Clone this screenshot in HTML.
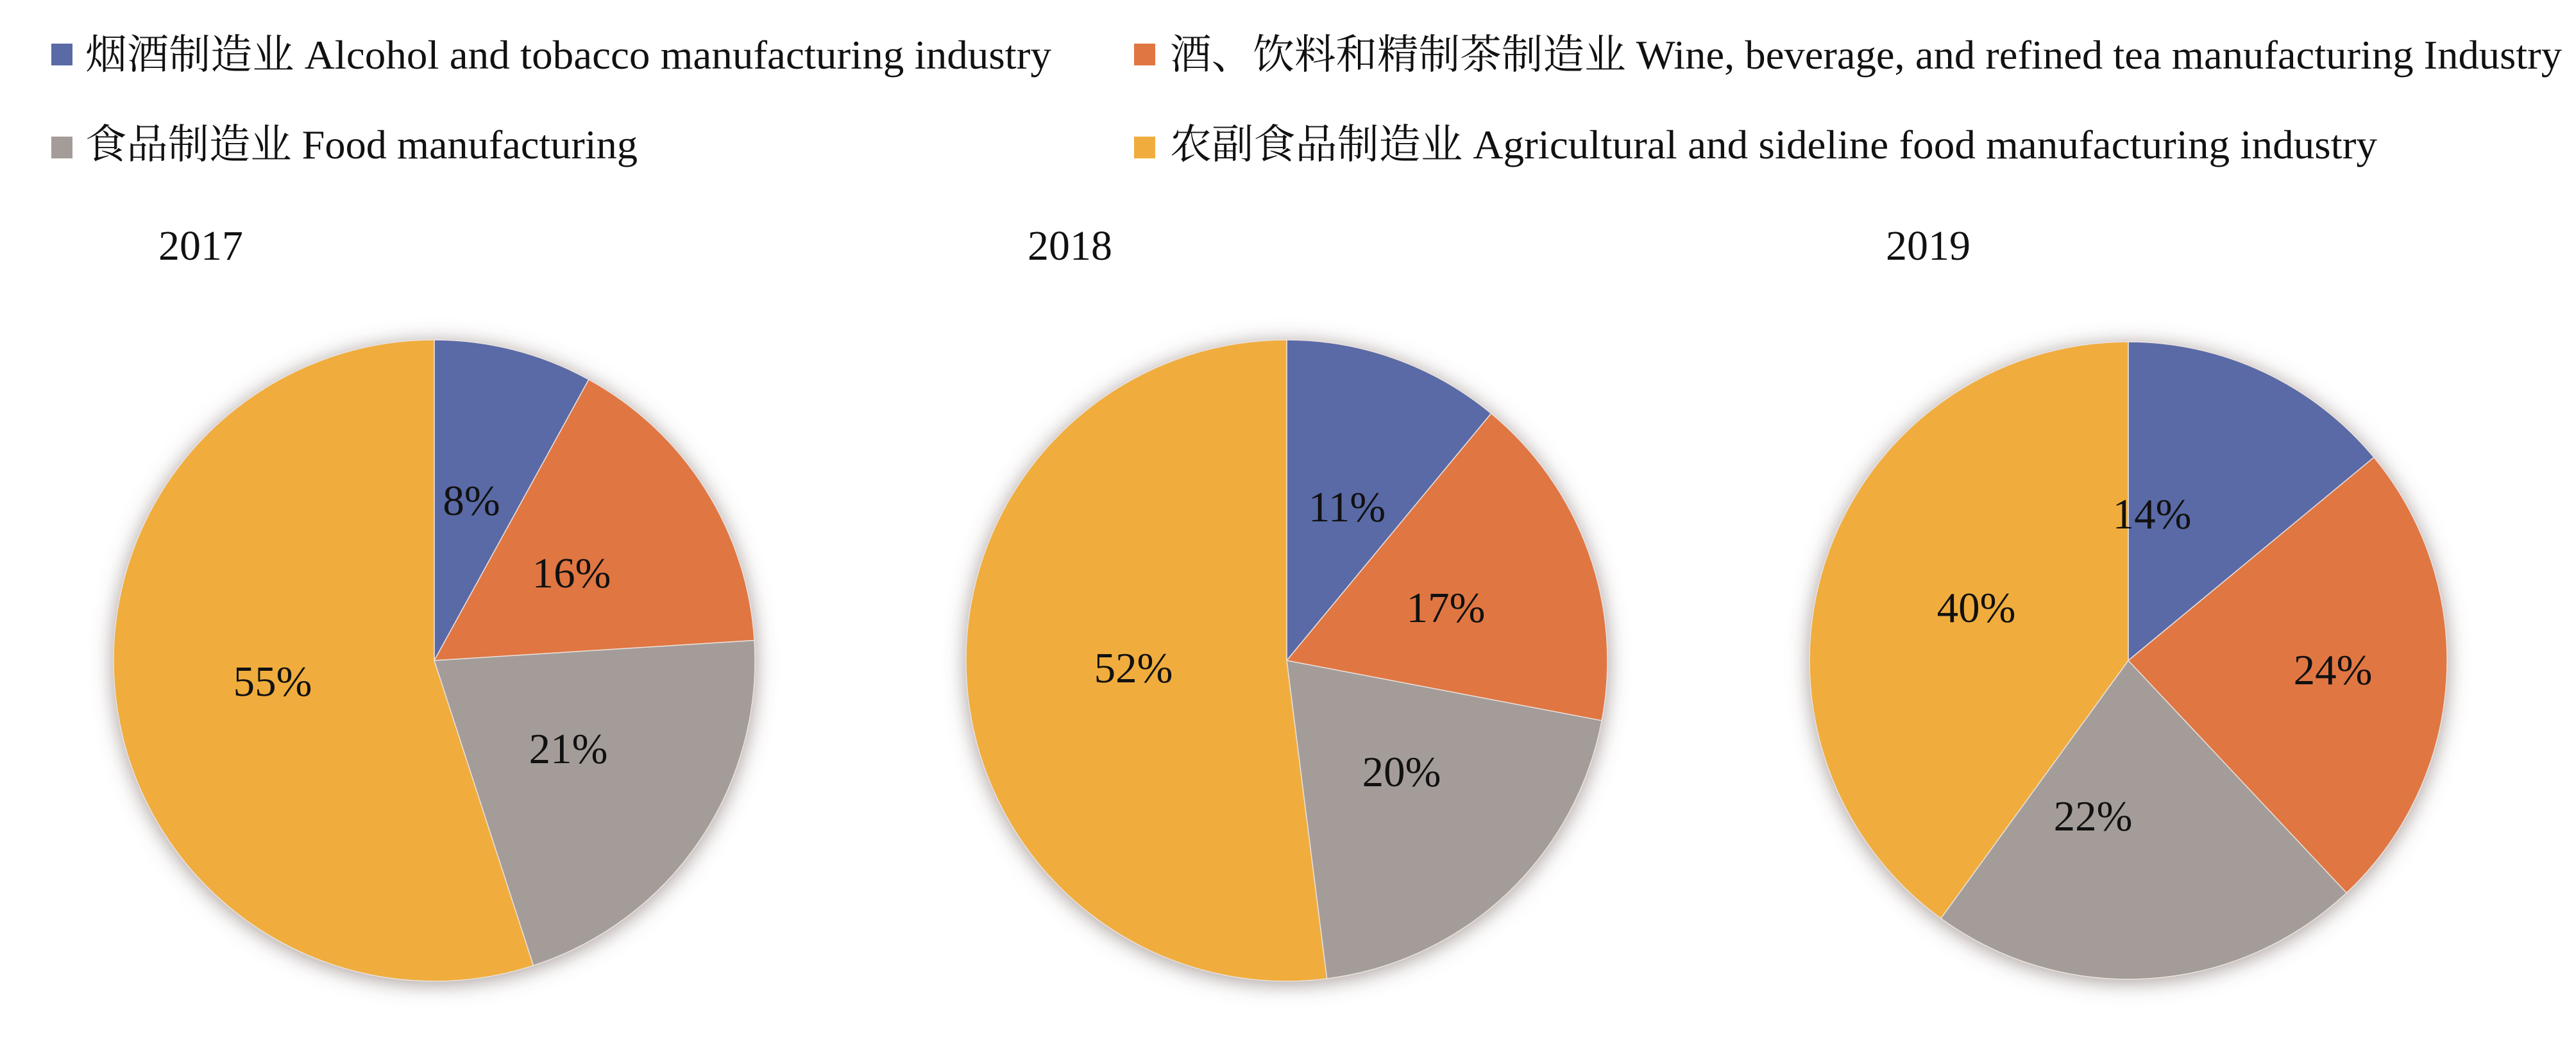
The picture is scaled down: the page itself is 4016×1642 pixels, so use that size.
<!DOCTYPE html>
<html><head><meta charset="utf-8"><style>
html,body{margin:0;padding:0;background:#fff;}
svg{display:block;}
text{font-family:"Liberation Serif","Noto Serif CJK SC","Noto Sans CJK SC",serif;fill:#111;}
</style></head><body>
<svg id="s" width="4016" height="1642" viewBox="0 0 4016 1642" xmlns="http://www.w3.org/2000/svg">
<defs>
<filter id="sh" x="-20%" y="-20%" width="140%" height="140%">
<feGaussianBlur in="SourceAlpha" stdDeviation="16"/>
<feOffset dx="0" dy="4" result="b"/>
<feFlood flood-color="#6b5a55" flood-opacity="0.6"/>
<feComposite in2="b" operator="in"/>
<feMerge><feMergeNode/><feMergeNode in="SourceGraphic"/></feMerge>
</filter>
</defs>
<rect x="80" y="68" width="33" height="34" fill="#5a6aa6"/>
<text x="133" y="107" font-size="64" textLength="1506" lengthAdjust="spacingAndGlyphs">烟酒制造业 Alcohol and tobacco manufacturing industry</text>
<rect x="1768" y="68" width="33" height="34" fill="#e07642"/>
<text x="1824" y="107" font-size="64" textLength="2170" lengthAdjust="spacingAndGlyphs">酒、饮料和精制茶制造业 Wine, beverage, and refined tea manufacturing Industry</text>
<rect x="80" y="213" width="33" height="34" fill="#a39c98"/>
<text x="133" y="247" font-size="64" textLength="861" lengthAdjust="spacingAndGlyphs">食品制造业 Food manufacturing</text>
<rect x="1768" y="213" width="33" height="34" fill="#f0ad3e"/>
<text x="1824" y="247" font-size="64" textLength="1882" lengthAdjust="spacingAndGlyphs">农副食品制造业 Agricultural and sideline food manufacturing industry</text>
<text x="247" y="405" font-size="66">2017</text>
<text x="1602" y="405" font-size="66">2018</text>
<text x="2940" y="405" font-size="66">2019</text>
<g id="pies"></g>
<g font-size="67" text-anchor="middle" dominant-baseline="central">
<text x="735" y="781">8%</text><text x="891" y="894">16%</text><text x="886" y="1168">21%</text><text x="425" y="1063">55%</text>
<text x="2100" y="791">11%</text><text x="2254" y="948">17%</text><text x="2185" y="1204">20%</text><text x="1767" y="1042">52%</text>
<text x="3355" y="802">14%</text><text x="3637" y="1045">24%</text><text x="3263" y="1273">22%</text><text x="3081" y="948">40%</text>
</g>
</svg>
<script>
var cols=["#5a6aa6","#e07642","#a39c98","#f0ad3e"];
var pies=[[677,1030,500,[8,16,21,55]],[2006,1030,500,[11,17,20,52]],[3318,1030,497,[14,24,22,40]]];
var g=document.getElementById("pies"),h="";
pies.forEach(function(p){
 var cx=p[0],cy=p[1],r=p[2],a=0;h+='<g filter="url(#sh)">';
 p[3].forEach(function(v,i){
  var a0=a/100*2*Math.PI;a+=v;var a1=a/100*2*Math.PI;
  var x0=cx+r*Math.sin(a0),y0=cy-r*Math.cos(a0),x1=cx+r*Math.sin(a1),y1=cy-r*Math.cos(a1);
  h+='<path d="M'+cx+' '+cy+' L'+x0+' '+y0+' A'+r+' '+r+' 0 '+(v>50?1:0)+' 1 '+x1+' '+y1+' Z" fill="'+cols[i]+'" stroke="#e8e0dc" stroke-width="1.5"/>';
 });
 h+='</g>';
});
g.innerHTML=h;
</script>
</body></html>
